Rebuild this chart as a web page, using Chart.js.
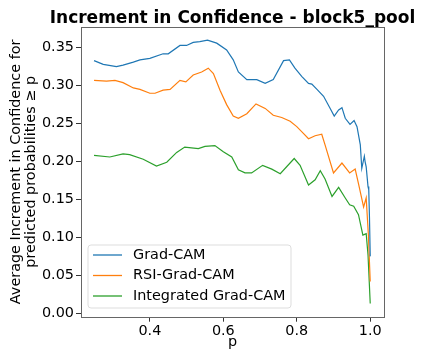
<!DOCTYPE html>
<html>
<head>
<meta charset="utf-8">
<script src="https://cdn.jsdelivr.net/npm/chart.js@4.4.1/dist/chart.umd.min.js"></script>
<style>
  html, body { margin: 0; padding: 0; background: #fff; }
</style>
</head>
<body>
<canvas id="chart" width="422" height="354"></canvas>
<script>
// values
const seriesNames = ['Grad-CAM', 'RSI-Grad-CAM', 'Integrated Grad-CAM'];
const xTicks = [0.4, 0.6, 0.8, 1.0];
const yTicks = [0.00, 0.05, 0.10, 0.15, 0.20, 0.25, 0.30, 0.35];

const gradCamP = [0.248, 0.273, 0.309, 0.327, 0.355, 0.373, 0.400, 0.436, 0.450, 0.482, 0.500, 0.518, 0.536, 0.557, 0.582, 0.609, 0.627, 0.641, 0.664, 0.691, 0.714, 0.736, 0.764, 0.780, 0.795, 0.814, 0.832, 0.841, 0.855, 0.873, 0.891, 0.902, 0.914, 0.923, 0.932, 0.945, 0.956, 0.964, 0.973, 0.977, 0.984, 0.986, 0.989, 0.994, 0.996, 0.998, 1.000];
const gradCamValues = [0.333, 0.328, 0.325, 0.327, 0.331, 0.334, 0.336, 0.342, 0.342, 0.353, 0.353, 0.357, 0.358, 0.360, 0.356, 0.347, 0.334, 0.318, 0.308, 0.308, 0.303, 0.308, 0.333, 0.334, 0.323, 0.312, 0.303, 0.302, 0.295, 0.286, 0.270, 0.260, 0.268, 0.271, 0.257, 0.249, 0.254, 0.246, 0.222, 0.191, 0.207, 0.200, 0.193, 0.167, 0.163, 0.125, 0.075];

const rsiP = [0.248, 0.282, 0.305, 0.327, 0.355, 0.373, 0.400, 0.414, 0.436, 0.455, 0.482, 0.498, 0.518, 0.541, 0.559, 0.573, 0.591, 0.609, 0.627, 0.641, 0.664, 0.689, 0.714, 0.736, 0.759, 0.782, 0.800, 0.818, 0.832, 0.850, 0.868, 0.877, 0.900, 0.923, 0.944, 0.959, 0.968, 0.982, 0.989, 0.995, 1.000];
const rsiValues = [0.307, 0.306, 0.307, 0.304, 0.297, 0.295, 0.290, 0.290, 0.294, 0.295, 0.307, 0.305, 0.314, 0.318, 0.323, 0.316, 0.294, 0.275, 0.260, 0.257, 0.263, 0.276, 0.270, 0.261, 0.258, 0.253, 0.246, 0.237, 0.230, 0.234, 0.236, 0.222, 0.185, 0.198, 0.185, 0.190, 0.171, 0.140, 0.152, 0.103, 0.042];

const integratedP = [0.248, 0.291, 0.327, 0.345, 0.382, 0.418, 0.446, 0.473, 0.495, 0.532, 0.550, 0.577, 0.600, 0.623, 0.641, 0.659, 0.677, 0.707, 0.732, 0.755, 0.793, 0.809, 0.832, 0.850, 0.864, 0.877, 0.896, 0.914, 0.932, 0.944, 0.955, 0.968, 0.980, 0.989, 0.994, 1.000];
const integratedValues = [0.208, 0.206, 0.210, 0.209, 0.203, 0.194, 0.199, 0.212, 0.219, 0.217, 0.220, 0.221, 0.213, 0.206, 0.189, 0.185, 0.185, 0.195, 0.190, 0.184, 0.204, 0.195, 0.169, 0.176, 0.188, 0.177, 0.154, 0.166, 0.152, 0.143, 0.141, 0.130, 0.103, 0.105, 0.077, 0.013];

const colors = ['#1f77b4', '#ff7f0e', '#2ca02c'];
const allP = [gradCamP, rsiP, integratedP];
const allValues = [gradCamValues, rsiValues, integratedValues];

const fontSize = 14.4;
Chart.defaults.font.family = 'DejaVu Sans';
Chart.defaults.color = '#000';

// draws the axes box, the title and the legend the way matplotlib does
const framePlugin = {
  id: 'frame',
  afterDraw(chart) {
    const { ctx, chartArea: a } = chart;
    ctx.save();
    ctx.strokeStyle = '#666';
    ctx.lineWidth = 1;
    ctx.strokeRect(Math.round(a.left) + 0.5, Math.round(a.top) + 0.5,
      Math.round(a.right - a.left), Math.round(a.bottom - a.top));

    ctx.fillStyle = '#000';
    ctx.font = 'bold 17px "DejaVu Sans"';
    ctx.textAlign = 'center';
    ctx.textBaseline = 'alphabetic';
    ctx.fillText('Increment in Confidence - block5_pool', (a.left + a.right) / 2, 23);

    // legend box
    const lx = 88, ly = 245, lw = 203, lh = 63, r = 3;
    ctx.beginPath();
    ctx.moveTo(lx + r, ly);
    ctx.arcTo(lx + lw, ly, lx + lw, ly + lh, r);
    ctx.arcTo(lx + lw, ly + lh, lx, ly + lh, r);
    ctx.arcTo(lx, ly + lh, lx, ly, r);
    ctx.arcTo(lx, ly, lx + lw, ly, r);
    ctx.closePath();
    ctx.fillStyle = 'rgba(255,255,255,0.8)';
    ctx.fill();
    ctx.strokeStyle = '#ddd';
    ctx.stroke();

    ctx.font = fontSize + 'px "DejaVu Sans"';
    ctx.textAlign = 'left';
    ctx.textBaseline = 'middle';
    const rows = [255, 275.5, 296];
    seriesNames.forEach((name, i) => {
      ctx.strokeStyle = colors[i];
      ctx.lineWidth = 1.3;
      ctx.beginPath();
      ctx.moveTo(93, rows[i]);
      ctx.lineTo(122, rows[i]);
      ctx.stroke();
      ctx.fillStyle = '#000';
      ctx.fillText(name, 133, rows[i]);
    });
    ctx.restore();
  }
};

new Chart(document.getElementById('chart'), {
  type: 'line',
  data: {
    datasets: seriesNames.map((name, i) => ({
      label: name,
      data: allP[i].map((p, j) => ({ x: p, y: allValues[i][j] })),
      borderColor: colors[i],
      borderWidth: 1.2,
      pointRadius: 0,
      tension: 0,
      fill: false
    }))
  },
  options: {
    responsive: false,
    animation: false,
    devicePixelRatio: 1,
    layout: { padding: { top: 27, right: 38, left: 0, bottom: 0 } },
    plugins: {
      legend: { display: false },
      tooltip: { enabled: false }
    },
    scales: {
      x: {
        type: 'linear',
        min: 0.2125,
        max: 1.0375,
        afterFit: s => { s.height = 37.3; },
        afterBuildTicks: s => { s.ticks = xTicks.map(v => ({ value: v })); },
        grid: { drawOnChartArea: false, tickLength: 5, color: '#333' },
        border: { display: false },
        ticks: {
          font: { size: fontSize },
          padding: 1,
          maxRotation: 0,
          callback: v => v.toFixed(1)
        },
        title: {
          display: true,
          text: 'p',
          font: { size: fontSize },
          padding: { top: 0, bottom: 3 }
        }
      },
      y: {
        min: -0.0045,
        max: 0.3773,
        afterFit: s => { s.width = 81; },
        afterBuildTicks: s => { s.ticks = yTicks.map(v => ({ value: v })); },
        grid: { drawOnChartArea: false, tickLength: 5, color: '#333' },
        border: { display: false },
        ticks: {
          font: { size: fontSize },
          padding: 2,
          callback: v => v.toFixed(2)
        },
        title: {
          display: true,
          text: ['Average Increment in Confidence for', 'predicted probabilities \u2265 p'],
          font: { size: fontSize, lineHeight: 1.1 },
          padding: { top: 8, bottom: 0 }
        }
      }
    }
  },
  plugins: [framePlugin]
});
</script>
</body>
</html>
